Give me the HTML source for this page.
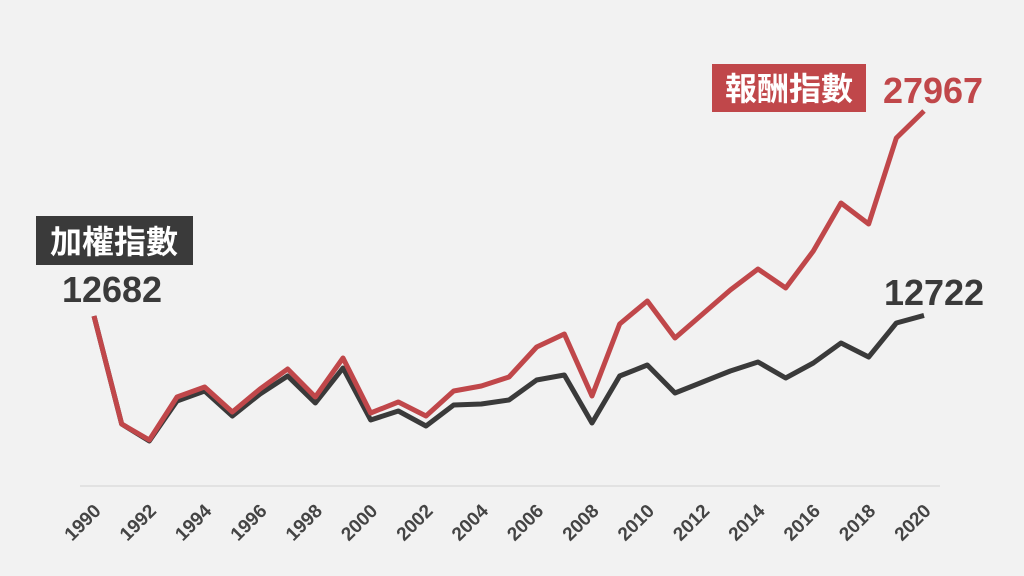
<!DOCTYPE html>
<html><head><meta charset="utf-8"><style>
body{margin:0;background:#f2f2f2;}
svg{display:block;font-family:"Liberation Sans","Noto Sans CJK TC",sans-serif;}
</style></head><body>
<svg id="chart" width="1024" height="576" viewBox="0 0 1024 576">
<rect width="1024" height="576" fill="#f2f2f2"/>
<line x1="80" y1="486" x2="940" y2="486" stroke="#dcdcdc" stroke-width="1.5"/>
<g id="ticks"></g>
<g id="lines"></g>
<rect x="36" y="216" width="157" height="49" fill="#3a3a3a"/>
<text x="114" y="253" text-anchor="middle" font-size="32" font-weight="bold" fill="#fff">加權指數</text>
<text x="112" y="302" text-anchor="middle" font-size="36" font-weight="bold" fill="#3a3a3a">12682</text>
<rect x="712" y="64" width="154" height="48" fill="#c0474a"/>
<text x="789" y="100" text-anchor="middle" font-size="32" font-weight="bold" fill="#fff">報酬指數</text>
<text x="933" y="103" text-anchor="middle" font-size="36" font-weight="bold" fill="#c0474a">27967</text>
<text x="934" y="305" text-anchor="middle" font-size="36" font-weight="bold" fill="#3a3a3a">12722</text>
</svg>
<script>
const years = [1990,1991,1992,1993,1994,1995,1996,1997,1998,1999,2000,2001,2002,2003,2004,2005,2006,2007,2008,2009,2010,2011,2012,2013,2014,2015,2016,2017,2018,2019,2020];
const returnIndex = [12682,4630,3437,6643,7388,5524,7239,8730,6643,9551,5450,6270,5226,7090,7463,8134,10371,11340,6717,12085,13800,11042,12831,14621,16186,14770,17528,21107,19542,25954,27967];
const weightedIndex = [12682,4630,3362,6344,7090,5226,6866,8208,6195,8805,4928,5599,4480,6046,6121,6419,7910,8283,4704,8208,9029,6941,7761,8581,9252,8059,9178,10669,9625,12160,12722];
const tickYears = [1990,1992,1994,1996,1998,2000,2002,2004,2006,2008,2010,2012,2014,2016,2018,2020];
const NS="http://www.w3.org/2000/svg";
function xS(y){return 94+(y-1990)*(924-94)/30;}
function yS(v){return 316-(v-12682)*(316-111)/(27967-12682);}
const tg=document.getElementById('ticks');
tickYears.forEach(y=>{
  const t=document.createElementNS(NS,'text');
  const x=xS(y)+8, yy=512;
  t.setAttribute('x',x);t.setAttribute('y',yy);
  t.setAttribute('text-anchor','end');
  t.setAttribute('font-size','19');t.setAttribute('font-weight','bold');t.setAttribute('fill','#444');
  t.setAttribute('transform','rotate(-45 '+x+' '+yy+')');
  t.textContent=y;
  
  
  tg.appendChild(t);
});
const lg=document.getElementById('lines');
function draw(vals,color,name){
  const p=document.createElementNS(NS,'polyline');
  p.setAttribute('points',vals.map((v,i)=>xS(years[i])+','+yS(v)).join(' '));
  p.setAttribute('fill','none');p.setAttribute('stroke',color);p.setAttribute('stroke-width','5');
  p.setAttribute('stroke-linejoin','round');
  
  
  lg.appendChild(p);
}
draw(weightedIndex,'#3a3a3a','weighted-index-line');
draw(returnIndex,'#c0474a','return-index-line');
</script>
</body></html>
